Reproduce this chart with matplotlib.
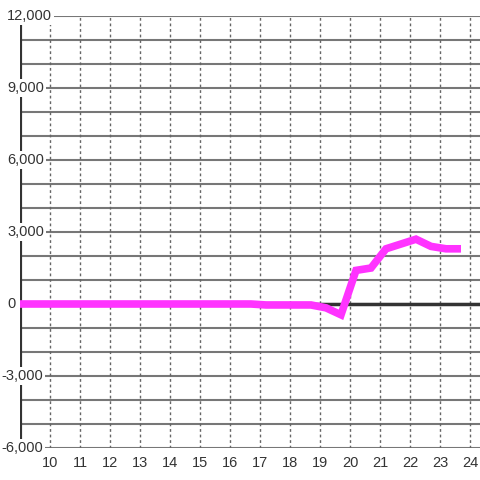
import matplotlib
matplotlib.use("Agg")
import matplotlib.pyplot as plt
import matplotlib.transforms as mtransforms

plt.rcParams["font.family"] = ["Liberation Sans", "DejaVu Sans"]

# hours (x) and values (y)
hours = [8.7, 9.2, 9.7, 10.2, 10.7, 11.2, 11.7, 12.2, 12.7, 13.2, 13.7, 14.2,
         14.7, 15.2, 15.7, 16.2, 16.7, 17.2, 17.7, 18.2, 18.7, 19.2, 19.7,
         20.2, 20.7, 21.2, 21.7, 22.2, 22.7, 23.2, 23.7]
values = [0, 0, 0, 0, 0, 0, 0, 0, 0, 0, 0, 0,
          0, 0, 0, 0, 0, -40, -40, -40, -40, -160, -450,
          1400, 1500, 2300, 2500, 2700, 2400, 2300, 2300]

x_ticks = list(range(10, 25))
y_labels = [-6000, -3000, 0, 3000, 6000, 9000, 12000]
y_grid = list(range(-6000, 12001, 1000))

fig = plt.figure(figsize=(4.8, 4.8), dpi=100)
ax = fig.add_axes([20 / 480, 32 / 480, 460 / 480, 432 / 480])
ax.set_xlim(9, 9 + 460 / 30)
ax.set_ylim(-6000, 12000)

for s in ax.spines.values():
    s.set_visible(False)

# grid
for v in y_grid:
    ax.axhline(v, color="#777777", lw=1.5, zorder=1)
for t in x_ticks:
    ax.axvline(t, color="#666666", lw=1, ls=(0, (2, 2)), zorder=1)

# zero line and y axis
ax.axhline(0, color="#333333", lw=2.5, zorder=2)
ax.axvline(9, color="#333333", lw=3, zorder=2)

ax.plot(hours, values, color="#ff33ff", lw=5.5, solid_joinstyle="miter",
        solid_capstyle="butt", zorder=3)

ax.set_xticks(x_ticks)
ax.set_xticklabels([str(t) for t in x_ticks], fontsize=10.5, color="#333333")
ax.tick_params(axis="x", length=0, pad=6)
ax.set_yticks([])

trans = mtransforms.blended_transform_factory(fig.transFigure, ax.transData)
for v in y_labels:
    ax.text(7 / 480 if v >= 0 else 1 / 480, v, f"{v:,}", transform=trans,
            ha="left", va="center", fontsize=10.5, color="#333333", zorder=5,
            bbox=dict(facecolor="white", edgecolor="none", pad=1.5),
            clip_on=False)

fig.savefig("out.png", dpi=100, facecolor="white")
